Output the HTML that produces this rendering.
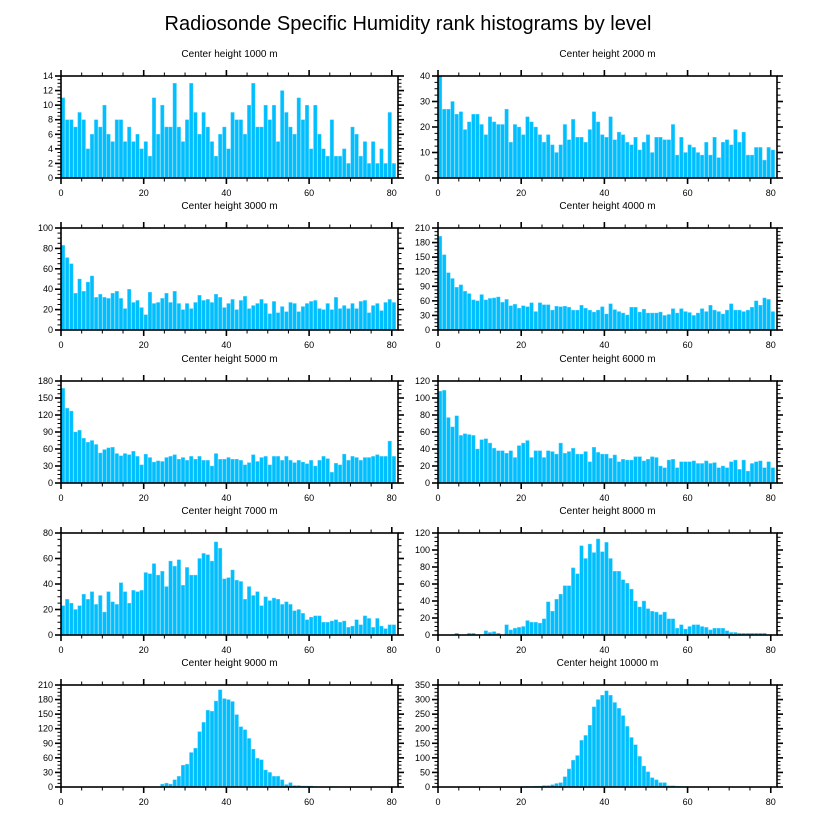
<!DOCTYPE html>
<html><head><meta charset="utf-8">
<style>
html,body{margin:0;padding:0;background:#fff;}
svg{display:block;font-family:"Liberation Sans",Arial,sans-serif;}
</style></head>
<body>
<svg id="chart" width="816" height="824" viewBox="0 0 816 824" xmlns="http://www.w3.org/2000/svg">
<text x="408" y="30" font-size="20" text-anchor="middle" fill="#000">Radiosonde Specific Humidity rank histograms by level</text>
</svg>
<script>
const titles = ["Center height 1000 m","Center height 2000 m","Center height 3000 m","Center height 4000 m","Center height 5000 m","Center height 6000 m","Center height 7000 m","Center height 8000 m","Center height 9000 m","Center height 10000 m"];
const yMax = [14,40,100,210,180,120,80,120,210,350];
const yStep = [2,10,20,30,30,20,20,20,30,50];
const xTicks = [0,20,40,60,80];
const h1000 = [11,8,8,7,9,8,4,6,8,7,10,6,5,8,8,5,7,5,6,4,5,3,11,6,10,7,7,13,7,5,8,13,9,6,9,7,5,3,6,7,4,9,8,8,6,10,13,7,7,10,8,10,5,12,9,7,6,11,8,10,4,10,6,4,3,8,3,3,4,2,7,6,3,5,2,5,2,4,2,9,2];
const h2000 = [40,27,27,30,25,26,19,22,25,25,21,17,24,22,21,21,27,14,21,20,17,24,22,20,17,14,17,13,10,13,21,15,23,16,16,14,19,26,22,17,16,24,15,18,17,14,13,16,11,14,17,10,16,16,15,15,21,9,16,10,13,12,10,9,14,9,16,8,14,15,13,19,14,18,9,9,12,12,7,12,11];
const h3000 = [83,71,65,36,50,38,47,53,32,35,32,31,36,38,31,21,40,27,29,22,15,37,26,27,31,36,27,38,26,20,26,21,27,34,29,30,27,35,32,22,26,30,20,29,33,21,24,26,30,26,16,28,17,23,18,27,26,18,23,26,28,29,21,20,26,20,32,21,24,21,26,21,28,29,17,24,26,19,27,30,27];
const h4000 = [193,155,118,106,88,93,80,75,62,60,73,62,65,66,68,57,63,50,53,45,50,48,56,38,56,52,52,41,49,48,49,47,41,41,51,45,41,37,41,48,33,54,42,38,35,31,47,47,37,43,35,35,35,37,30,32,44,35,44,38,36,30,35,44,38,51,41,38,33,41,54,41,41,38,41,47,60,51,66,63,38];
const h5000 = [167,132,127,90,93,79,72,75,68,53,59,62,63,52,48,52,50,56,47,32,51,45,37,39,38,45,47,50,42,45,40,47,42,47,40,40,30,52,42,42,45,42,42,40,32,36,50,38,45,47,32,47,47,40,47,40,36,40,37,34,40,30,40,47,43,19,35,32,51,40,47,45,40,45,45,47,50,47,47,74,47];
const h6000 = [108,109,77,66,79,56,58,57,56,40,51,52,47,41,38,38,35,38,30,44,47,50,30,38,38,30,38,37,34,47,35,37,41,34,34,37,25,42,36,34,34,29,33,25,28,27,27,31,31,26,28,31,30,20,18,27,28,18,25,25,25,26,23,23,26,23,24,18,20,18,25,27,16,27,14,23,25,26,18,25,18];
const h7000 = [23,28,25,20,23,32,28,34,24,31,18,34,26,24,41,34,25,35,34,35,49,48,56,47,50,38,58,54,59,39,53,47,47,60,64,63,58,73,68,44,45,51,43,42,28,38,31,34,23,30,27,29,28,24,26,24,19,20,17,12,14,15,15,10,10,11,12,10,11,6,7,12,8,15,13,6,13,7,5,8,8];
const h8000 = [0,0,0,0,2,0,0,2,2,0,0,5,3,4,2,0,12,6,8,9,10,17,15,15,14,19,39,28,42,48,58,58,79,72,105,90,107,97,113,98,109,90,75,75,65,61,54,40,33,40,31,28,27,24,27,19,19,8,12,7,10,12,12,10,9,6,8,8,8,5,3,3,2,2,2,2,2,2,2,0,0];
const h9000 = [0,0,0,0,0,0,0,0,0,0,0,0,0,0,1,0,0,0,0,0,1,0,0,0,6,8,6,15,22,45,47,71,80,114,133,158,156,177,200,182,180,176,149,124,118,100,78,59,56,35,30,22,22,15,5,9,3,3,2,2,2,1,0,0,0,1,1,0,0,0,0,0,0,0,0,0,0,0,0,0,0];
const h10000 = [0,0,0,0,0,0,0,0,0,0,0,0,0,0,0,0,0,0,0,0,2,2,2,3,3,5,5,8,12,15,35,62,92,108,160,177,212,275,300,315,330,315,290,270,245,208,170,145,105,72,52,32,25,15,15,4,4,3,2,2,1,0,0,0,0,0,0,0,0,0,0,0,0,0,0,0,0,0,0,0,0];
const series = [h1000,h2000,h3000,h4000,h5000,h6000,h7000,h8000,h9000,h10000];

const NS = "http://www.w3.org/2000/svg";
const svg = document.getElementById("chart");
function mk(tag, attrs, parent){
  const e = document.createElementNS(NS, tag);
  for (const k in attrs) e.setAttribute(k, attrs[k]);
  (parent||svg).appendChild(e);
  return e;
}
const X_MAX = 81.5;
const colsX = [[61,398],[438,777]];
const rowsY = [76,228,381,533,685];
const PH = 102;

for (let p = 0; p < 10; p++) {
  const col = p % 2, row = Math.floor(p / 2);
  const x0 = colsX[col][0], x1 = colsX[col][1], y0 = rowsY[row], y1 = y0 + PH;
  const xs = v => x0 + (v / X_MAX) * (x1 - x0);
  const ys = v => y1 - (v / yMax[p]) * (y1 - y0);
  const g = mk("g", {});
  
  

  const t = mk("text", {x:(x0+x1)/2, y:y0-19, "font-size":"10", "text-anchor":"middle", fill:"#000"}, g);
  t.textContent = titles[p];
  
  

  // bars
  const data = series[p];
  for (let i = 0; i < data.length; i++) {
    if (data[i] <= 0) continue;
    const bx = xs(i), bw = xs(i+1) - xs(i);
    const r = mk("rect", {x:bx+0.3, y:ys(data[i]), width:Math.max(bw-0.6,0.5), height:y1-ys(data[i]), fill:"#00bfff", stroke:"#5fd3ff", "stroke-width":"0.4"}, g);
    
    
  }

  // frame
  const fr = mk("rect", {x:x0, y:y0, width:x1-x0, height:y1-y0, fill:"none", stroke:"#000", "stroke-width":"1.6"}, g);
  
  

  // x ticks (major every 20, minor every 5), on top and bottom, outward
  for (let v = 0; v <= 80; v += 5) {
    const major = v % 20 === 0;
    const L = major ? 6 : 3.5;
    const xv = xs(v);
    mk("line", {x1:xv, y1:y1, x2:xv, y2:y1+L, stroke:"#000", "stroke-width":major?"1.6":"1"}, g);
    mk("line", {x1:xv, y1:y0, x2:xv, y2:y0-L, stroke:"#000", "stroke-width":major?"1.6":"1"}, g);
  }
  for (const v of xTicks) {
    const tl = mk("text", {x:xs(v), y:y1+18, "font-size":"9", "text-anchor":"middle", fill:"#000"}, g);
    tl.textContent = String(v);
    
    
  }
  // y ticks
  const step = yStep[p], minor = step / 4;
  for (let k = 0; k * minor <= yMax[p] + 1e-9; k++) {
    const v = k * minor, major = k % 4 === 0;
    const L = major ? 6 : 3.5;
    const yv = ys(v);
    mk("line", {x1:x0, y1:yv, x2:x0-L, y2:yv, stroke:"#000", "stroke-width":major?"1.6":"1"}, g);
    mk("line", {x1:x1, y1:yv, x2:x1+L, y2:yv, stroke:"#000", "stroke-width":major?"1.6":"1"}, g);
  }
  for (let v = 0; v <= yMax[p] + 1e-9; v += step) {
    const yl = mk("text", {x:x0-8, y:ys(v)+3, "font-size":"9", "text-anchor":"end", fill:"#000"}, g);
    yl.textContent = String(v);
    
    
  }
}
</script>
</body></html>
